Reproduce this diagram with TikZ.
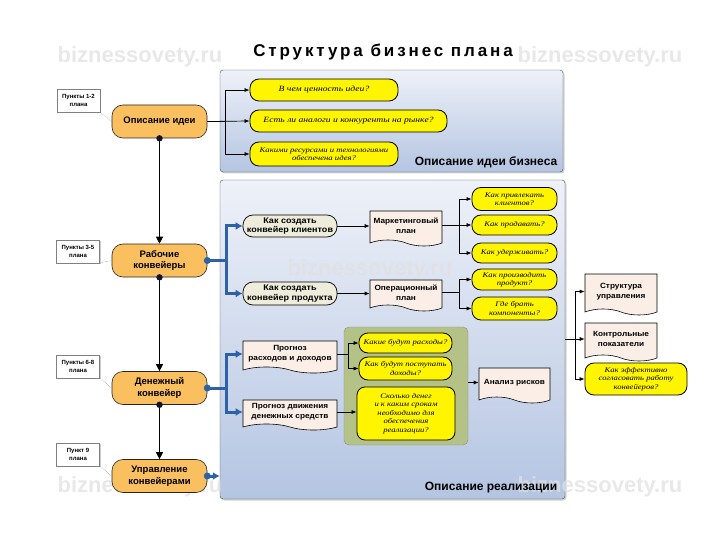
\documentclass[tikz,border=0pt]{standalone}
\usepackage{fontspec}
\setmainfont{Liberation Sans}
\newfontfamily\askfont[FakeStretch=1.2]{Liberation Serif}
\newfontfamily\widefont[FakeStretch=1.1]{Liberation Sans}
\newfontfamily\headfont[LetterSpace=17]{Liberation Sans}
\usepackage{tikz}
\usetikzlibrary{arrows.meta,positioning,calc,shapes.symbols,shadows}
\definecolor{ideaorange}{RGB}{250,192,96}
\definecolor{askyellow}{RGB}{255,245,0}
\definecolor{howbeige}{RGB}{238,236,218}
\definecolor{docpink}{RGB}{250,238,230}
\definecolor{boxtop}{RGB}{238,241,248}
\definecolor{boxbottom}{RGB}{180,197,226}
\definecolor{moneygreen}{RGB}{180,194,135}
\definecolor{flowblue}{RGB}{46,98,168}
\definecolor{ink}{RGB}{20,20,40}
\definecolor{markgray}{RGB}{224,224,224}

\begin{document}
\begin{tikzpicture}[
  x=1pt, y=-1pt,
  groupbox/.style={draw=black!70, rounded corners=3pt, top color=boxtop, bottom color=boxbottom,
    drop shadow={opacity=0.35, shadow xshift=1.5pt, shadow yshift=-1.5pt}, inner sep=0pt},
  greenbox/.style={draw=black!45, fill=moneygreen, rounded corners=5pt, inner sep=0pt},
  grouplabel/.style={font=\bfseries\fontsize{12}{14}\selectfont},
  mainbox/.style={draw=black!85, line width=0.6pt, fill=ideaorange, rounded corners=11pt,
    minimum width=95, minimum height=33, align=center, inner sep=1pt,
    font=\bfseries\fontsize{9.5}{11.5}\selectfont},
  notebox/.style={draw=black!50, fill=white, minimum width=43, minimum height=23, align=center,
    inner sep=1pt, font=\bfseries\fontsize{6}{7.5}\selectfont,
    drop shadow={opacity=0.4, shadow xshift=1.2pt, shadow yshift=-1.2pt}},
  askbox/.style={draw=black, line width=0.8pt, fill=askyellow, rounded corners=9pt, align=center,
    inner sep=1pt, font=\askfont\itshape\fontsize{7.2}{8.4}\selectfont},
  bigask/.style={askbox, font=\askfont\itshape\fontsize{8}{9}\selectfont},
  howbox/.style={draw=black, line width=0.7pt, fill=howbeige, rounded corners=10pt, align=center,
    minimum width=94, inner sep=1pt, font=\widefont\bfseries\fontsize{8.2}{9.5}\selectfont},
  docbox/.style={draw=black, line width=0.6pt, fill=docpink, shape=tape, tape bend top=none,
    tape bend bottom=out and in, tape bend height=6pt, align=center, inner sep=1pt,
    font=\widefont\bfseries\fontsize{7.5}{10}\selectfont},
  link/.style={draw=black, line width=0.7pt, -{Latex[length=5pt,width=4pt]}},
  spine/.style={draw=black, line width=0.7pt, -{Triangle[length=7pt,width=7pt]}},
  bluelink/.style={draw=flowblue, line width=3pt, -{Latex[length=7pt,width=8pt]}},
  notelink/.style={densely dotted, black!60, thin},
  watermark/.style={text=markgray, opacity=0.75, font=\bfseries\fontsize{22}{24}\selectfont}
]
\useasboundingbox (0,0) rectangle (720,540);

% Group frames
\node[groupbox, minimum width=343, minimum height=102] (ideagroup) at (391.5,121) {};
\node[groupbox, minimum width=345, minimum height=319] (bigbox) at (392.5,339.5) {};
\node[greenbox, minimum width=124, minimum height=118] (cashgroup) at (406,386) {};

% Watermarks
\node[watermark] (wm1) at (140,57) {biznessovety.ru};
\node[watermark] (wm2) at (600,57) {biznessovety.ru};
\node[watermark] (wm3) at (370,270) {biznessovety.ru};
\node[watermark] (wm4) at (140,487) {biznessovety.ru};
\node[watermark] (wm5) at (600,487) {biznessovety.ru};

\node[font=\headfont\bfseries\fontsize{17}{20}\selectfont] (title) at (383,52) {Структура бизнес плана};
\node[grouplabel] (ideagrouplbl) at (486,162) {Описание идеи бизнеса};
\node[grouplabel] (biglbl) at (491,488) {Описание реализации};

% Main chain
\node[mainbox] (idea) at (159.5,121.5) {Описание идеи};
\node[mainbox] (work) at (159.5,260.5) {Рабочие\\конвейеры};
\node[mainbox] (money) at (159.5,388) {Денежный\\конвейер};
\node[mainbox] (ctrl) at (159.5,476) {Управление\\конвейерами};

% Plan notes
\node[notebox] (n1) at (78.5,100.5) {Пункты 1-2\\плана};
\node[notebox] (n2) at (78,251.5) {Пункты 3-5\\плана};
\node[notebox] (n3) at (78,366.5) {Пункты 6-8\\плана};
\node[notebox] (n4) at (78,454.5) {Пункт 9\\плана};

% Idea questions
\node[bigask, minimum width=148, minimum height=22] (q1) at (324,90) {В чем ценность идеи?};
\node[bigask, minimum width=197, minimum height=22] (q2) at (348.5,121) {Есть ли аналоги и конкуренты на рынке?};
\node[askbox, minimum width=148, minimum height=24] (q3) at (324,154) {Какими ресурсами и технологиями\\обеспечена идея?};

% Working conveyors
\node[howbox, minimum height=22] (clients) at (290,226) {Как создать\\конвейер клиентов};
\node[howbox, minimum height=23] (product) at (290,293.5) {Как создать\\конвейер продукта};
\node[docbox, minimum width=72, minimum height=35] (mkt) at (406,225.5) {Маркетинговый\\план};
\node[docbox, minimum width=72, minimum height=31] (ops) at (406,292.5) {Операционный\\план};
\node[askbox, minimum width=85, minimum height=23] (qa) at (514.5,199) {Как привлекать\\клиентов?};
\node[askbox, minimum width=85, minimum height=20] (qb) at (514.5,225) {Как продавать?};
\node[askbox, minimum width=85, minimum height=20] (qc) at (514.5,253) {Как удерживать?};
\node[askbox, minimum width=85, minimum height=21] (qd) at (514.5,279.5) {Как производить\\продукт?};
\node[askbox, minimum width=85, minimum height=23] (qe) at (514.5,308.5) {Где брать\\компоненты?};

% Money conveyor
\node[docbox, minimum width=94, minimum height=32] (fc1) at (290,354) {Прогноз\\расходов и доходов};
\node[docbox, minimum width=94, minimum height=30] (fc2) at (290,412) {Прогноз движения\\денежных средств};
\node[askbox, minimum width=93, minimum height=20] (r1) at (405.5,343) {Какие будут расходы?};
\node[askbox, minimum width=93, minimum height=23] (r2) at (405.5,368.5) {Как будут поступать\\доходы?};
\node[askbox, rounded corners=8pt, minimum width=98, minimum height=53] (r3) at (406,413.5) {Сколько денег\\и к каким срокам\\необходимо для\\обеспечения\\реализации?};
\node[docbox, minimum width=71, minimum height=35] (risk) at (514.5,382.5) {Анализ рисков};

% Management
\node[docbox, minimum width=72, minimum height=41] (mgmt) at (621,291.5) {Структура\\управления};
\node[docbox, minimum width=72, minimum height=38] (kpi) at (621,339) {Контрольные\\показатели};
\node[askbox, minimum width=102, minimum height=32] (eff) at (636,379) {Как эффективно\\согласовать работу\\конвейеров?};
\coordinate (rbus) at (575,339);

% Spine
\draw[spine] (idea.south) -- (work.north);
\draw[spine] (work.south) -- (money.north);
\draw[spine] (money.south) -- (ctrl.north);
\foreach \m in {idea,work,money} \fill[ink] (\m.south) circle (3.2pt);

% Notes
\draw[notelink] (n1.south east) -- (idea.west);
\draw[notelink] (n2.south east) -- (work.west);
\draw[notelink] (n3.south east) -- (money.west);
\draw[notelink] (n4.south east) -- (ctrl.west);

% Idea links
\draw[link] (idea.east) -- ++(18,0) |- (q1.west);
\draw[link] (idea.east) -- (q2.west);
\draw[link] (idea.east) -- ++(18,0) |- (q3.west);

% Blue links
\draw[bluelink] (work.east) -- ++(19,0) |- (clients.west);
\draw[bluelink] (work.east) -- ++(19,0) |- (product.west);
\draw[bluelink] (money.east) -- ++(19,0) |- (fc1.west);
\draw[bluelink] (money.east) -- ++(19,0) |- (fc2.west);
\draw[bluelink] (ctrl.east) -- (ctrl.east -| bigbox.west);
\foreach \m in {work,money,ctrl} \fill[flowblue] (\m.east) circle (3.5pt);

% Plan links
\draw[link] (clients.east) -- (mkt.west |- clients.east);
\draw[link] (product.east) -- (ops.west |- product.east);
\foreach \q in {qa,qb,qc} \draw[link] (mkt.east) -- ++(17,0) |- (\q.west);
\foreach \q in {qd,qe} \draw[link] (ops.east) -- ++(17,0) |- (\q.west);
\foreach \q in {r1,r2} \draw[link] (fc1.east) -- ++(11,0) |- (\q.west);
\draw[link] (fc2.east) -- (r3.west |- fc2.east);
\draw[link] (cashgroup.east |- risk.west) -- (risk.west);

% Management links
\draw[link] (kpi.west -| bigbox.east) -- (kpi.west);
\draw[link] (rbus) |- (mgmt.west);
\draw[link] (rbus) |- (eff.west);

\end{tikzpicture}
\end{document}
